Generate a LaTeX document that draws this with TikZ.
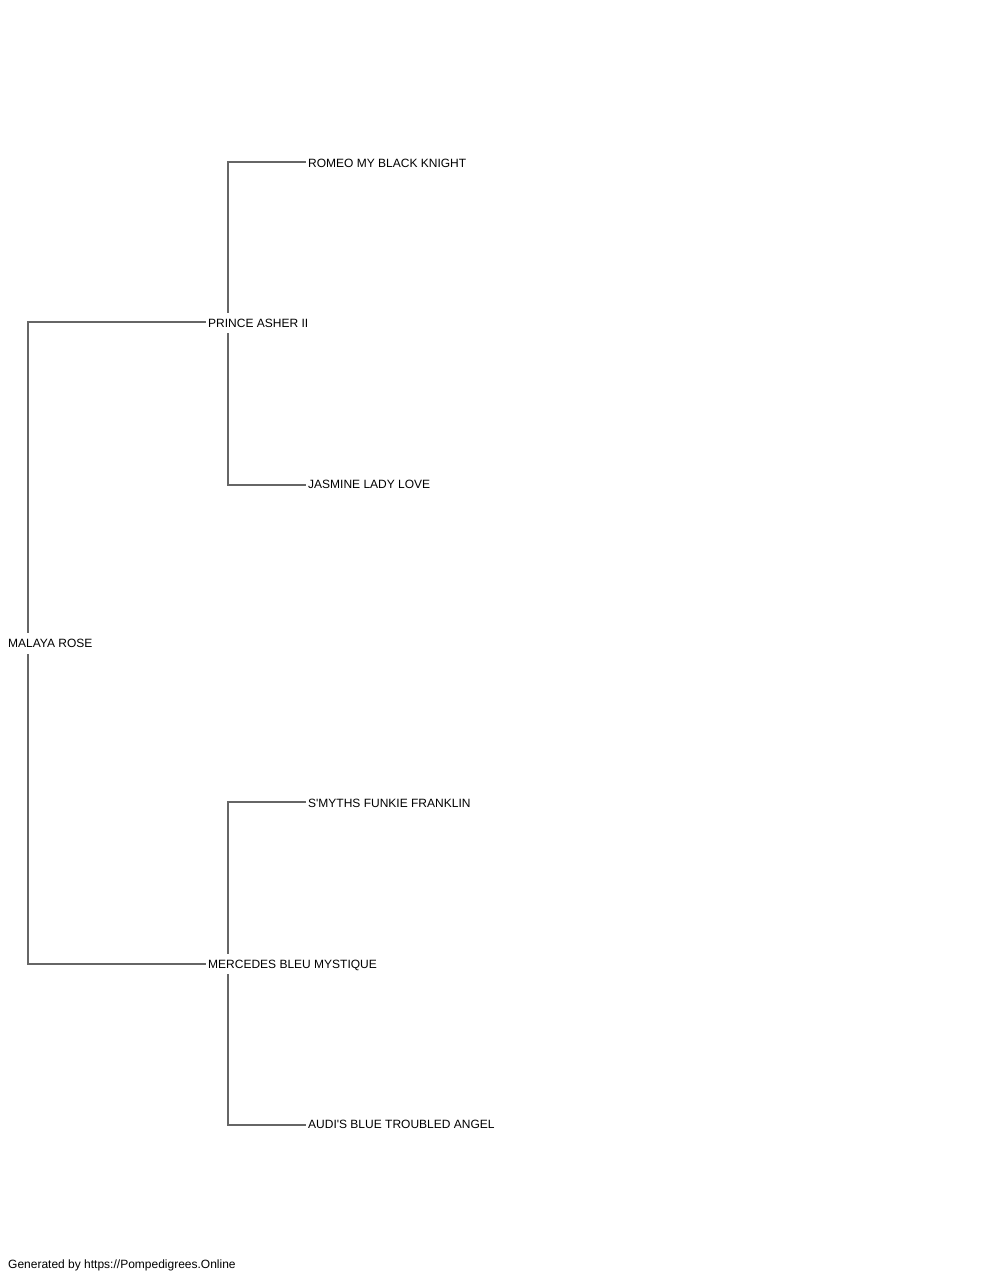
\documentclass[tikz,border=0pt]{standalone}
\usepackage{fontspec}
\setmainfont{Liberation Sans}[Ligatures=TeXOff]
\usetikzlibrary{backgrounds}
\begin{document}
\begin{tikzpicture}[x=1pt,y=-1pt,
  horse/.style={anchor=west,fill=white,inner xsep=2pt,inner ysep=6pt,text height=8.6pt,text depth=0pt,font=\fontsize{12pt}{14pt}\selectfont},
  link/.style={draw=black!60,line width=1.2pt}]
\useasboundingbox (0,0) rectangle (1000,1280);
\node[horse] (mr) at (6,643.5) {MALAYA ROSE};
\node[horse] (pa) at (206,323) {PRINCE ASHER II};
\node[horse] (mb) at (206,964) {MERCEDES BLEU MYSTIQUE};
\node[horse] (ro) at (306,163.5) {ROMEO MY BLACK KNIGHT};
\node[horse] (ja) at (306,484) {JASMINE LADY LOVE};
\node[horse] (sm) at (306,803.5) {S'MYTHS FUNKIE FRANKLIN};
\node[horse] (au) at (306,1124) {AUDI'S BLUE TROUBLED ANGEL};
\node[horse] (ft) at (6,1264) {Generated by https://Pompedigrees.Online};
\begin{pgfonlayer}{background}
\draw[link] ([yshift=1pt]pa.west) -| ([xshift=22pt]mr.west);
\draw[link] (mb.west) -| ([xshift=22pt]mr.west);
\draw[link] ([yshift=1.5pt]ro.west) -| ([xshift=22pt]pa.west);
\draw[link] ([yshift=-1pt]ja.west) -| ([xshift=22pt]pa.west);
\draw[link] ([yshift=1.5pt]sm.west) -| ([xshift=22pt]mb.west);
\draw[link] ([yshift=-1pt]au.west) -| ([xshift=22pt]mb.west);
\end{pgfonlayer}
\end{tikzpicture}
\end{document}
